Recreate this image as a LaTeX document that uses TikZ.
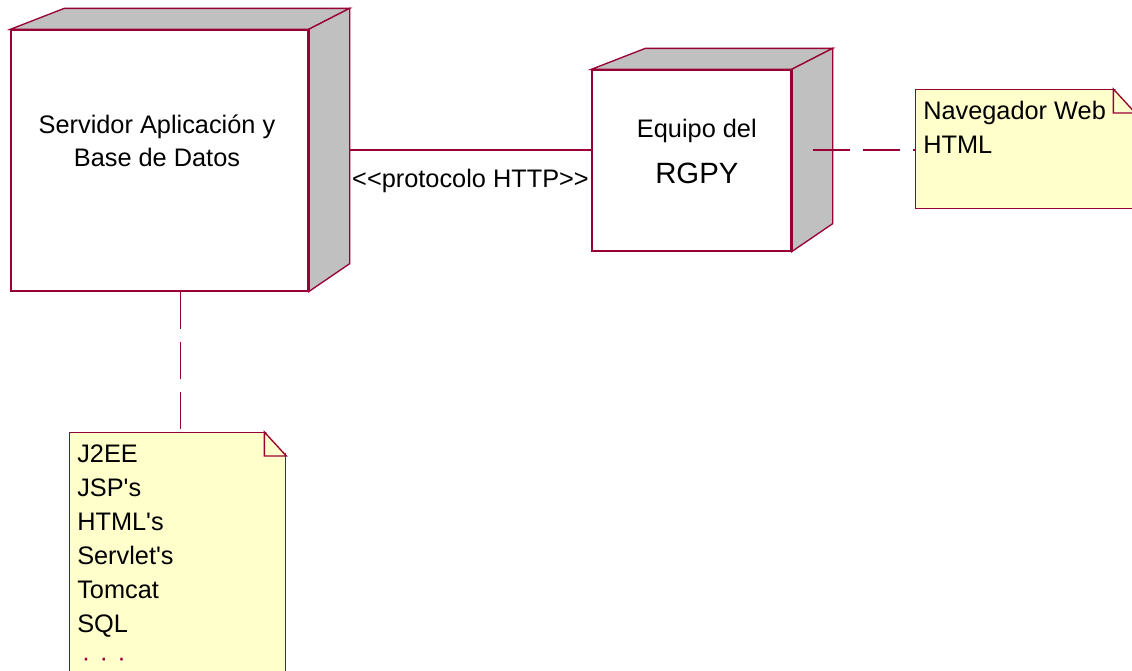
\documentclass[tikz,border=0pt]{standalone}
\usepackage{fontspec}
\newfontfamily\rosefont{Liberation Sans}
\usetikzlibrary{positioning}
\definecolor{rosered}{RGB}{153,0,51}
\definecolor{notefill}{RGB}{255,255,204}
\definecolor{sidegray}{RGB}{192,192,192}
\tikzset{
	box/.style={draw=rosered, fill=white, line width=1pt, inner sep=0pt},
	note/.style={box, fill=notefill, anchor=north west},
	txt/.style={inner sep=0pt, font=\rosefont\fontsize{19}{25.5}\selectfont, align=left},
	link/.style={draw=rosered, line width=1pt},
	dep/.style={link, dash pattern=on 27.75pt off 9.75pt}
}
\begin{document}
\begin{tikzpicture}[x=0.75pt, y=-0.75pt, font=\rosefont]
\useasboundingbox (0,0) rectangle (1132,671);
%nodes
\node[box, minimum width=222.75pt, minimum height=195.75pt] (srv) at (159.5,160.5) {};
\node[box, minimum width=149.25pt, minimum height=135.75pt] (rgpy) at (691.5,160.5) {};
\foreach \n in {srv,rgpy}{
	\draw[box, fill=sidegray] (\n.north west) -- ++(54,-21) -- ([shift={(41,-21)}]\n.north east) -- (\n.north east) -- cycle;
	\draw[box, fill=sidegray] (\n.north east) -- ++(41,-21) -- ([shift={(41,-28)}]\n.south east) -- (\n.south east) -- cycle;
	\draw[rosered, line width=2.2pt] (\n.north east) -- (\n.south east);
}
\node[txt, align=center, font=\rosefont\fontsize{19}{24.75}\selectfont, below=60.7pt of srv.north, xshift=-1.9pt] (srvname) {\strut Servidor Aplicación y\\Base de Datos};
\node[txt, align=center, below=33.2pt of rgpy.north, xshift=4pt] (rgpyname) {\strut Equipo del\\[9pt]{\fontsize{22}{26}\selectfont RGPY}};
%notes
\node[note, minimum width=162pt, minimum height=193.5pt] (j2eenote) at (69,432) {};
\node[note, minimum width=164.25pt, minimum height=89.25pt] (navnote) at (915,89) {};
\foreach \n in {j2eenote,navnote}{
	\fill[white] ([shift={(-22,-2)}]\n.north east) -- ([shift={(2,-2)}]\n.north east) -- ([shift={(2,24)}]\n.north east) -- cycle;
	\draw[link] ([shift={(-22,0)}]\n.north east) -- ([shift={(0,24)}]\n.north east) -- ++(-22,0) -- cycle;
}
\node[txt, anchor=north west] (j2eetext) at ([shift={(8,6.2)}]j2eenote.north west) {\strut J2EE\\JSP's\\HTML's\\Servlet's\\Tomcat\\SQL\\\textcolor{rosered}{\hspace{3.4pt}·\hspace{7pt}·\hspace{7pt}·}};
\node[txt, anchor=north west] (navtext) at ([shift={(8,6.2)}]navnote.north west) {\strut Navegador Web\\HTML};
%connectors
\coordinate (httpstart) at ([shift={(41,-10.5)}]srv.east);
\draw[link] (httpstart) -- (httpstart -| rgpy.west) node[txt, midway, anchor=base, yshift=-27.75pt] (httplabel) {<<protocolo HTTP>>};
\coordinate (navstart) at ([shift={(21,-10.5)}]rgpy.east);
\draw[dep] (navstart) -- (navstart -| navnote.west);
\draw[dep] ([xshift=15.75pt]srv.south) -- ([xshift=15.75pt]srv.south |- j2eenote.north);
\end{tikzpicture}
\end{document}
